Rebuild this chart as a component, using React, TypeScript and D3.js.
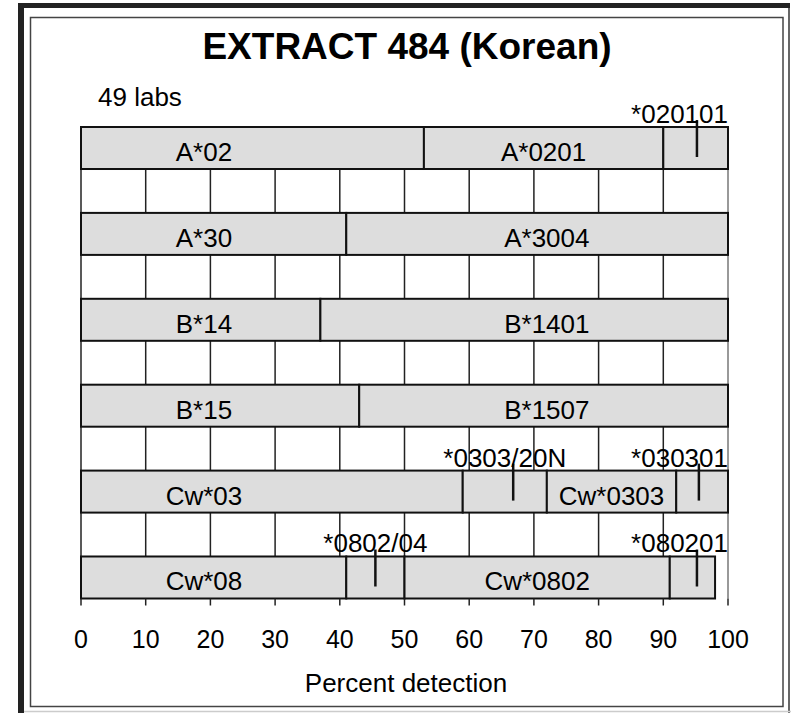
import { useMemo } from 'react';
import * as d3 from 'd3';

const WIDTH = 791;
const HEIGHT = 713;
const FONT = '"Liberation Sans", Arial, sans-serif';

// rows of the chart, top to bottom
const rowNames = ['A*02', 'A*30', 'B*14', 'B*15', 'Cw*03', 'Cw*08'];
// right edge (percent) of every segment in a row
const segmentEnds = [
    [53, 90, 100],
    [41, 100],
    [37, 100],
    [43, 100],
    [59, 72, 92, 100],
    [41, 50, 91, 98],
];
// names of the segments; the ones starting with '*' are the small ones with a marker
const segmentLabels = [
    ['A*02', 'A*0201', '*020101'],
    ['A*30', 'A*3004'],
    ['B*14', 'B*1401'],
    ['B*15', 'B*1507'],
    ['Cw*03', '*0303/20N', 'Cw*0303', '*030301'],
    ['Cw*08', '*0802/04', 'Cw*0802', '*080201'],
];
// where each label / marker sits (percent)
const labelAt = [
    [19, 71.5, 95.2],
    [19, 72],
    [19, 72],
    [19, 72],
    [19, 66.8, 82, 95.5],
    [19, 45.5, 70.5, 95.2],
];
const xTicks = [0, 10, 20, 30, 40, 50, 60, 70, 80, 90, 100];

const MARGIN = { top: 127, left: 81, right: 63, bottom: 114.5 };
const LABEL_SIZE = 26;

const measure = (txt: string, size: number) => {
    const ctx = document.createElement('canvas').getContext('2d');
    if (!ctx) return txt.length * size * 0.55;
    ctx.font = `${size}px ${FONT}`;
    return ctx.measureText(txt).width;
};

export default function App() {
    const xScale = useMemo(
        () => d3.scaleLinear().domain([0, 100]).range([MARGIN.left, WIDTH - MARGIN.right]),
        []
    );
    const yScale = useMemo(
        () =>
            d3
                .scaleBand()
                .domain(rowNames)
                .range([MARGIN.top, HEIGHT - MARGIN.bottom])
                .paddingInner(0.511)
                .paddingOuter(0),
        []
    );
    const bw = yScale.bandwidth();
    const plotTop = yScale(rowNames[0]) ?? 0;
    const plotBottom = (yScale(rowNames[rowNames.length - 1]) ?? 0) + bw;

    const segments = rowNames.map((row, i) => {
        const y = yScale(row) ?? 0;
        const ends = segmentEnds[i];
        return ends.map((end, j) => {
            const start = j === 0 ? 0 : ends[j - 1];
            return { row, y, start, end, label: segmentLabels[i][j], at: labelAt[i][j] };
        });
    });

    return (
        <svg
            width={WIDTH}
            height={HEIGHT}
            style={{ position: 'absolute', left: 0, top: 0, background: '#fff' }}
            fontFamily={FONT}
        >
            {/* outer frame */}
            <line x1={18} x2={790} y1={5.5} y2={5.5} stroke="#222" strokeWidth={5} />
            <line x1={21} x2={21} y1={3} y2={713} stroke="#222" strokeWidth={6} />
            <line x1={789} x2={789} y1={8} y2={713} stroke="#666" strokeWidth={2} />
            <line x1={24} x2={791} y1={711.5} y2={711.5} stroke="#ccc" strokeWidth={1.5} />
            {/* inner frame */}
            <rect x={30.5} y={17.5} width={752.5} height={689} fill="none" stroke="#444" strokeWidth={1.5} />

            <text x={407} y={59} textAnchor="middle" fontSize={37} fontWeight="bold">
                EXTRACT 484 (Korean)
            </text>
            <text x={98} y={106} fontSize={LABEL_SIZE}>
                49 labs
            </text>

            {/* grid */}
            {xTicks
                .filter((t) => t < 100)
                .map((t) => (
                    <line
                        key={t}
                        x1={xScale(t)}
                        x2={xScale(t)}
                        y1={plotTop}
                        y2={plotBottom}
                        stroke="#222"
                        strokeWidth={1.5}
                    />
                ))}
            <line
                x1={xScale(100)}
                x2={xScale(100)}
                y1={plotTop}
                y2={plotBottom}
                stroke="#999"
                strokeWidth={2}
            />

            {/* bars */}
            {segments.flat().map((s, i) => (
                <rect
                    key={i}
                    x={xScale(s.start)}
                    y={s.y}
                    width={xScale(s.end) - xScale(s.start)}
                    height={bw}
                    fill="#dddddd"
                    stroke="#111"
                    strokeWidth={2}
                />
            ))}

            {/* labels and markers */}
            {segments.flat().map((s, i) => {
                if (s.label.startsWith('*')) {
                    const w = measure(s.label, LABEL_SIZE);
                    let cx = xScale((s.start + s.end) / 2);
                    if (cx + w / 2 > xScale(100)) cx = xScale(100) - w / 2;
                    return (
                        <g key={i}>
                            <line
                                x1={xScale(s.at)}
                                x2={xScale(s.at)}
                                y1={s.y - 7}
                                y2={s.y + 30}
                                stroke="#111"
                                strokeWidth={2.5}
                            />
                            <text x={cx} y={s.y - 4} textAnchor="middle" fontSize={LABEL_SIZE}>
                                {s.label}
                            </text>
                        </g>
                    );
                }
                return (
                    <text
                        key={i}
                        x={xScale(s.at)}
                        y={s.y + 34}
                        textAnchor="middle"
                        fontSize={LABEL_SIZE}
                    >
                        {s.label}
                    </text>
                );
            })}

            {/* x axis */}
            {xTicks.map((t) => (
                <g key={t}>
                    <line
                        x1={xScale(t)}
                        x2={xScale(t)}
                        y1={plotBottom}
                        y2={plotBottom + 7}
                        stroke="#222"
                        strokeWidth={1.5}
                    />
                    <text x={xScale(t)} y={648} textAnchor="middle" fontSize={25}>
                        {t}
                    </text>
                </g>
            ))}
            <text x={406} y={692} textAnchor="middle" fontSize={26}>
                Percent detection
            </text>
        </svg>
    );
}
